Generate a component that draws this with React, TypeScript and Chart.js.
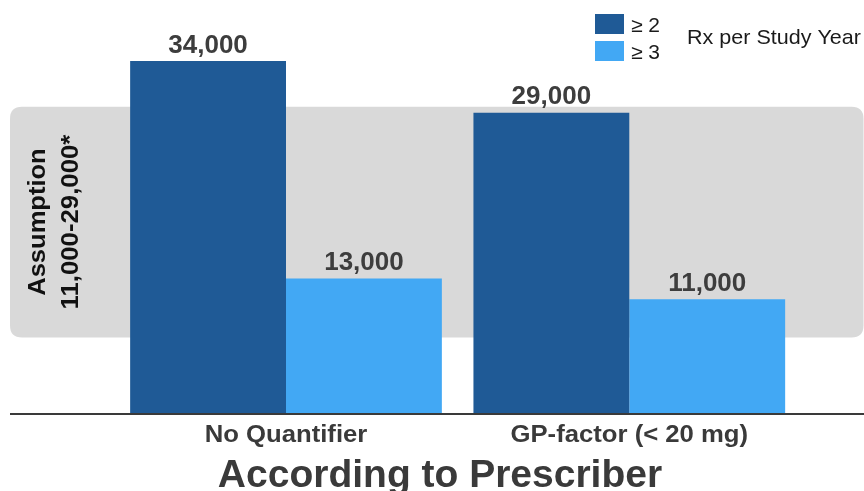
import React, { useEffect, useRef } from "react";
import { Chart, registerables } from "chart.js";

Chart.register(...registerables);

const categories = ["No Quantifier", "GP-factor (< 20 mg)"];
const seriesNames = ["≥ 2", "≥ 3"];
const seriesGe2 = [34000, 29000];
const seriesGe3 = [13000, 11000];
const legendTitle = "Rx per Study Year";
const axisTitle = "According to Prescriber";
const assumptionLines = ["Assumption", "11,000-29,000*"];
const assumptionBand = [7300, 29600]; // value range covered by the grey band
const yMax = 36000;

const DARK = "#1f5a96";
const LIGHT = "#42a8f4";
const FONT = '"Liberation Sans", Arial, Helvetica, sans-serif';

function txt(
  ctx: CanvasRenderingContext2D,
  s: string,
  x: number,
  y: number,
  font: string,
  color: string,
  align: CanvasTextAlign,
  sx: number,
  rot = 0
) {
  ctx.save();
  ctx.translate(x, y);
  if (rot) ctx.rotate(rot);
  ctx.scale(sx, 1);
  ctx.font = font;
  ctx.fillStyle = color;
  ctx.textAlign = align;
  ctx.textBaseline = "alphabetic";
  ctx.fillText(s, 0, 0);
  ctx.restore();
}

function roundRect(ctx: CanvasRenderingContext2D, x: number, y: number, w: number, h: number, r: number) {
  ctx.beginPath();
  ctx.moveTo(x + r, y);
  ctx.lineTo(x + w - r, y);
  ctx.quadraticCurveTo(x + w, y, x + w, y + r);
  ctx.lineTo(x + w, y + h - r);
  ctx.quadraticCurveTo(x + w, y + h, x + w - r, y + h);
  ctx.lineTo(x + r, y + h);
  ctx.quadraticCurveTo(x, y + h, x, y + h - r);
  ctx.lineTo(x, y + r);
  ctx.quadraticCurveTo(x, y, x + r, y);
  ctx.closePath();
}

const decorPlugin = {
  id: "decor",
  beforeDatasetsDraw(chart: any) {
    const ctx: CanvasRenderingContext2D = chart.ctx;
    const y = chart.scales.y;
    const top = y.getPixelForValue(assumptionBand[1]);
    const bot = y.getPixelForValue(assumptionBand[0]);
    ctx.save();
    ctx.fillStyle = "#d9d9d9";
    roundRect(ctx, 10, top, chart.width - 10.5, bot - top, 12);
    ctx.fill();
    ctx.restore();
    // rotated assumption text
    const cy = (top + bot) / 2;
    txt(ctx, assumptionLines[0], 45, cy, `bold 23px ${FONT}`, "#111111", "center", 1.11, -Math.PI / 2);
    txt(ctx, assumptionLines[1], 77.5, cy, `bold 23px ${FONT}`, "#111111", "center", 1.12, -Math.PI / 2);
  },
  afterDatasetsDraw(chart: any) {
    const ctx: CanvasRenderingContext2D = chart.ctx;
    const base = chart.chartArea.bottom;
    ctx.save();
    ctx.fillStyle = "#3a3a3a";
    ctx.fillRect(10, base, chart.width - 10, 2);
    ctx.restore();

    // data labels
    chart.data.datasets.forEach((ds: any, i: number) => {
      const meta = chart.getDatasetMeta(i);
      meta.data.forEach((bar: any, j: number) => {
        const v = ds.data[j] as number;
        txt(ctx, v.toLocaleString("en-US"), bar.x, bar.y - 8.5, `bold 25px ${FONT}`, "#3d3d3d", "center", 1.04);
      });
    });

    // category labels
    const x = chart.scales.x;
    categories.forEach((c, i) => {
      txt(ctx, c, x.getPixelForValue(i), base + 29, `bold 24px ${FONT}`, "#3a3a3a", "center", 1.07);
    });

    // axis title
    txt(ctx, axisTitle, 440, base + 74, `bold 39px ${FONT}`, "#3a3a3a", "center", 1.0);

    // legend
    const colors = [DARK, LIGHT];
    const boxY = [14, 41];
    const textY = [32, 58.5];
    seriesNames.forEach((n, i) => {
      ctx.fillStyle = colors[i];
      ctx.fillRect(595, boxY[i], 29, 20);
      txt(ctx, n, 631, textY[i], `20px ${FONT}`, "#1a1a1a", "left", 1.05);
    });
    txt(ctx, legendTitle, 687, 44.3, `21px ${FONT}`, "#1a1a1a", "left", 1.025);
  },
};

export default function App() {
  const ref = useRef<HTMLCanvasElement | null>(null);
  useEffect(() => {
    if (!ref.current) return;
    const chart = new Chart(ref.current, {
      type: "bar",
      data: {
        labels: categories,
        datasets: [
          { label: seriesNames[0], data: seriesGe2, backgroundColor: DARK, borderWidth: 0 },
          { label: seriesNames[1], data: seriesGe3, backgroundColor: LIGHT, borderWidth: 0 },
        ],
      },
      options: {
        animation: false,
        responsive: false,
        maintainAspectRatio: false,
        events: [],
        layout: { padding: { left: 114.35, right: 63.05, top: 40.4, bottom: 78 } },
        datasets: { bar: { categoryPercentage: 0.908, barPercentage: 1 } },
        plugins: { legend: { display: false }, title: { display: false }, tooltip: { enabled: false } },
        scales: {
          x: { display: false, grid: { display: false } },
          y: { display: false, min: 0, max: yMax, grid: { display: false } },
        },
      } as any,
      plugins: [decorPlugin],
    });
    return () => chart.destroy();
  }, []);
  return (
    <div style={{ position: "absolute", left: 0, top: 0, width: 864, height: 491, background: "#ffffff" }}>
      <canvas ref={ref} width={864} height={491} style={{ width: 864, height: 491, display: "block" }} />
    </div>
  );
}
